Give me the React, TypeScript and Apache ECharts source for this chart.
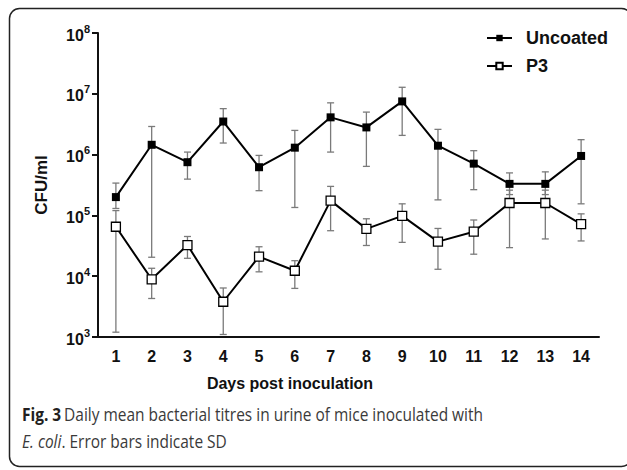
import React, { useEffect, useRef } from "react";
import * as echarts from "echarts";

const days = ["1", "2", "3", "4", "5", "6", "7", "8", "9", "10", "11", "12", "13", "14"];
const uncoatedMean = [2.0e5, 1.45e6, 7.5e5, 3.5e6, 6.2e5, 1.3e6, 4.1e6, 2.8e6, 7.5e6, 1.4e6, 7.1e5, 3.3e5, 3.3e5, 9.5e5];
const uncoatedHigh = [3.4e5, 2.9e6, 1.1e6, 5.7e6, 9.7e5, 2.5e6, 7.1e6, 5.0e6, 1.28e7, 2.6e6, 1.16e6, 5.0e5, 5.2e5, 1.76e6];
const uncoatedLow = [1.3e5, 2.05e4, 3.95e5, 1.55e6, 2.55e5, 1.35e5, 1.1e6, 6.4e5, 2.07e6, 1.8e5, 2.65e5, 2.2e5, 2.2e5, 1.55e5];
const p3Mean = [6.5e4, 8.9e3, 3.25e4, 3.8e3, 2.1e4, 1.23e4, 1.75e5, 6.0e4, 9.8e4, 3.7e4, 5.4e4, 1.6e5, 1.6e5, 7.2e4];
const p3High = [1.2e5, 1.35e4, 4.5e4, 6.4e3, 3.05e4, 1.8e4, 3.0e5, 8.8e4, 1.55e5, 6.1e4, 8.4e4, 2.6e5, 2.6e5, 1.06e5];
const p3Low = [1.2e3, 4.3e3, 1.97e4, 1.1e3, 1.18e4, 6.3e3, 5.6e4, 3.2e4, 3.6e4, 1.3e4, 2.3e4, 2.95e4, 4.1e4, 3.8e4];

const seriesNames = ["Uncoated", "P3"];
const xTitle = "Days post inoculation";
const yTitle = "CFU/ml";
const captionLine1 = ["Fig. 3", "Daily mean bacterial titres in urine of mice inoculated with"];
const captionLine2 = ["E. coli", ". Error bars indicate SD"];

const AX = "Liberation Sans";
const CAP = "Open Sans";

function errorSeries(name: string, low: number[], high: number[]) {
  return {
    name,
    type: "custom",
    z: 1,
    silent: true,
    data: low.map((l, i) => [i, l, high[i]]),
    encode: { x: 0, y: [1, 2] },
    renderItem: (params: any, api: any) => {
      const i = api.value(0);
      const pLo = api.coord([i, api.value(1)]);
      const pHi = api.coord([i, api.value(2)]);
      const w = 3.5;
      const st = { stroke: "#7a7a7a", lineWidth: 1.3 };
      return {
        type: "group",
        children: [
          { type: "line", shape: { x1: pLo[0], y1: pLo[1], x2: pHi[0], y2: pHi[1] }, style: st },
          { type: "line", shape: { x1: pLo[0] - w, y1: pLo[1], x2: pLo[0] + w, y2: pLo[1] }, style: st },
          { type: "line", shape: { x1: pHi[0] - w, y1: pHi[1], x2: pHi[0] + w, y2: pHi[1] }, style: st },
        ],
      };
    },
  };
}

export default function App() {
  const ref = useRef<HTMLDivElement>(null);
  useEffect(() => {
    if (!ref.current) return;
    const chart = echarts.init(ref.current, null, { renderer: "svg" });
    chart.setOption({
      animation: false,
      backgroundColor: "#fff",
      grid: { left: 98, right: 28, top: 33, bottom: 133 },
      legend: {
        data: seriesNames,
        orient: "vertical",
        left: 481,
        top: 24,
        itemWidth: 25,
        itemHeight: 8,
        itemGap: 10,
        textStyle: { fontFamily: AX, fontSize: 18, fontWeight: "bold", color: "#111", lineHeight: 18, padding: [0, 0, 0, 9] },
      },
      xAxis: {
        type: "category",
        data: days,
        boundaryGap: true,
        name: xTitle,
        nameLocation: "middle",
        nameGap: 38,
        nameTextStyle: { fontFamily: AX, fontSize: 16, fontWeight: "bold", color: "#111", padding: [0, 117, 0, 0] },
        axisLine: { lineStyle: { color: "#111", width: 2 } },
        axisTick: { alignWithLabel: true, length: 6, lineStyle: { color: "#111", width: 2 } },
        axisLabel: { fontFamily: AX, fontSize: 16, fontWeight: "bold", color: "#111", margin: 11 },
        splitLine: { show: false },
      },
      yAxis: {
        type: "log",
        logBase: 10,
        min: 1e3,
        max: 1e8,
        name: yTitle,
        nameLocation: "middle",
        nameGap: 48,
        nameTextStyle: { fontFamily: AX, fontSize: 17, fontWeight: "bold", color: "#111" },
        axisLine: { show: true, lineStyle: { color: "#111", width: 2 } },
        axisTick: { show: true, length: 6, lineStyle: { color: "#111", width: 2 } },
        splitLine: { show: false },
        axisLabel: {
          margin: 8,
          formatter: (v: number) => `{b|10}{s|${Math.round(Math.log10(v))}}`,
          rich: {
            b: { fontFamily: AX, fontSize: 16, fontWeight: "bold", color: "#111", lineHeight: 20, verticalAlign: "bottom" },
            s: { fontFamily: AX, fontSize: 11, fontWeight: "bold", color: "#111", lineHeight: 11, verticalAlign: "top" },
          },
        },
      },
      series: [
        errorSeries("Uncoated SD", uncoatedLow, uncoatedHigh),
        errorSeries("P3 SD", p3Low, p3High),
        {
          name: seriesNames[0],
          type: "line",
          z: 3,
          data: uncoatedMean,
          symbol: "rect",
          symbolSize: 8,
          lineStyle: { color: "#000", width: 2 },
          itemStyle: { color: "#000" },
        },
        {
          name: seriesNames[1],
          type: "line",
          z: 3,
          data: p3Mean,
          symbol: "rect",
          symbolSize: 9,
          lineStyle: { color: "#000", width: 2 },
          itemStyle: { color: "#fff", borderColor: "#000", borderWidth: 1.3 },
        },
      ],
      graphic: [
        {
          type: "rect",
          shape: { x: 9.5, y: 8.5, width: 622, height: 458, r: 10 },
          style: { fill: "none", stroke: "#222", lineWidth: 1.5 },
          silent: true,
        },
        {
          type: "text",
          x: 22,
          y: 414,
          scaleX: 0.86,
          style: {
            text: `{b|${captionLine1[0]}} {r|${captionLine1[1]}}`,
            verticalAlign: "middle",
            rich: {
              b: { fontFamily: CAP, fontSize: 18, fontWeight: "bold", fill: "#231f20" },
              r: { fontFamily: CAP, fontSize: 18, fill: "#3a3a3a" },
            },
          },
        },
        {
          type: "text",
          x: 22,
          y: 441,
          scaleX: 0.86,
          style: {
            text: `{i|${captionLine2[0]}}{r|${captionLine2[1]}}`,
            verticalAlign: "middle",
            rich: {
              i: { fontFamily: CAP, fontSize: 18, fontStyle: "italic", fill: "#3a3a3a" },
              r: { fontFamily: CAP, fontSize: 18, fill: "#3a3a3a" },
            },
          },
        },
      ],
    });
    return () => chart.dispose();
  }, []);
  return <div ref={ref} style={{ width: 627, height: 470, position: "fixed", left: 0, top: 0 }} />;
}
